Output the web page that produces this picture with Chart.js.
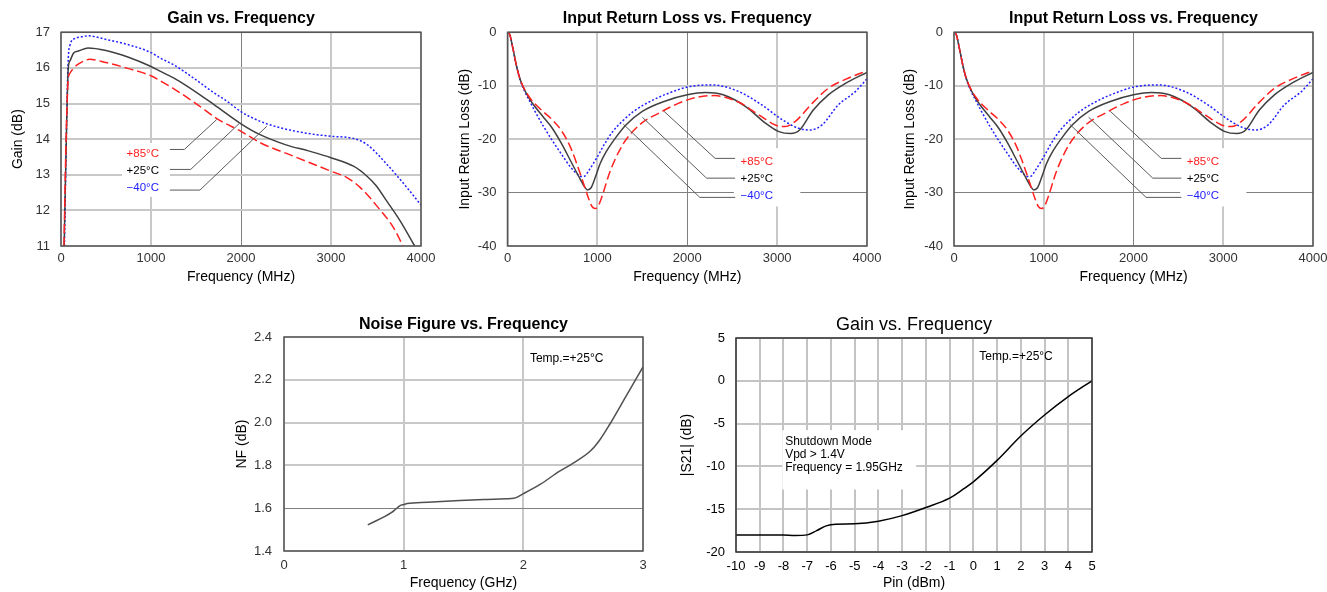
<!DOCTYPE html>
<html>
<head>
<meta charset="utf-8">
<script src="https://cdn.jsdelivr.net/npm/chart.js@4.4.1/dist/chart.umd.min.js"></script>
<style>
  html, body { margin: 0; padding: 0; background: #fff; }
  body { width: 1327px; height: 592px; position: relative; overflow: hidden; }
  .panel { position: absolute; }
</style>
</head>
<body>
<div class="panel" style="left:0;top:0;width:440px;height:292px"><canvas id="gainChart"></canvas></div>
<div class="panel" style="left:880px;top:0;width:447px;height:292px"><canvas id="rlChartB"></canvas></div>
<div class="panel" style="left:440px;top:0;width:460px;height:292px"><canvas id="rlChartA"></canvas></div>
<div class="panel" style="left:220px;top:300px;width:440px;height:292px"><canvas id="nfChart"></canvas></div>
<div class="panel" style="left:660px;top:300px;width:440px;height:292px"><canvas id="s21Chart"></canvas></div>
<script>
const FONT = '"Liberation Sans", Arial, sans-serif';

// ---- Gain vs. Frequency (MHz, dB)
const gainFreq85 = [33, 52, 70, 81, 100, 155, 200, 320, 500, 750, 1000, 1100, 1250, 1500, 1750, 2000, 2214, 2585, 3000, 3177, 3326, 3511, 3696, 3800];
const gain85     = [11.0, 13.5, 15.2, 15.7, 15.85, 16.03, 16.12, 16.24, 16.15, 15.98, 15.78, 15.64, 15.42, 15.0, 14.55, 14.22, 13.9, 13.52, 13.1, 12.92, 12.64, 12.12, 11.51, 11.0];
const gainFreq25 = [35, 55, 81, 100, 140, 200, 300, 500, 750, 1000, 1100, 1250, 1400, 1700, 2000, 2200, 2500, 2750, 3000, 3250, 3400, 3500, 3620, 3770, 3930];
const gain25     = [11.0, 13.5, 16.0, 16.2, 16.42, 16.48, 16.56, 16.49, 16.3, 16.04, 15.91, 15.72, 15.49, 14.97, 14.43, 14.14, 13.84, 13.67, 13.48, 13.24, 12.96, 12.7, 12.26, 11.7, 11.0];
const gainFreq40 = [38, 55, 81, 100, 155, 200, 300, 500, 750, 1000, 1100, 1250, 1470, 1700, 1841, 2000, 2214, 2437, 2696, 3000, 3252, 3400, 3622, 3844, 4000];
const gain40     = [11.0, 13.5, 16.27, 16.64, 16.83, 16.86, 16.9, 16.8, 16.65, 16.43, 16.28, 16.09, 15.72, 15.3, 15.07, 14.77, 14.5, 14.32, 14.18, 14.08, 14.02, 13.85, 13.29, 12.64, 12.15];

// ---- Input Return Loss vs. Frequency (MHz, dB)
const rlFreq85 = [0, 25, 60, 100, 140, 190, 250, 300, 400, 500, 600, 700, 800, 850, 900, 940, 975, 1010, 1050, 1140, 1280, 1470, 1700, 1900, 2100, 2300, 2575, 2800, 2980, 3090, 3200, 3390, 3570, 3760, 4000];
const rl85     = [0, -0.4, -3.0, -6.3, -8.8, -10.7, -12.3, -13.3, -14.9, -16.4, -18.4, -21.5, -26.0, -28.5, -31.0, -32.6, -33.0, -32.5, -30.8, -26.1, -21.1, -17.3, -15.0, -13.3, -12.2, -11.85, -13.1, -15.5, -17.34, -17.65, -16.72, -13.3, -10.48, -8.8, -7.2];
const rlFreq25 = [0, 25, 60, 100, 140, 190, 250, 300, 400, 500, 600, 700, 800, 860, 890, 930, 980, 1030, 1100, 1200, 1320, 1500, 1750, 2000, 2200, 2400, 2650, 2870, 3020, 3150, 3250, 3400, 3570, 3760, 4000];
const rl25     = [0, -0.4, -3.0, -6.3, -8.8, -10.8, -12.6, -13.8, -15.9, -18.0, -20.8, -24.0, -27.2, -29.0, -29.5, -29.1, -27.0, -24.6, -22.3, -19.8, -17.3, -14.8, -12.9, -11.7, -11.25, -11.7, -13.9, -17.0, -18.6, -18.96, -18.3, -14.6, -11.7, -9.55, -7.5];
const rlFreq40 = [0, 25, 60, 100, 140, 190, 250, 300, 400, 500, 600, 700, 780, 820, 860, 900, 990, 1080, 1170, 1280, 1400, 1620, 1840, 2020, 2280, 2575, 2830, 3060, 3240, 3370, 3500, 3680, 3870, 4000];
const rl40     = [0, -0.4, -3.0, -6.3, -8.9, -11.0, -13.0, -14.6, -17.6, -20.3, -22.8, -25.2, -26.6, -27.0, -26.9, -26.0, -23.6, -20.9, -18.6, -16.6, -14.85, -12.66, -11.1, -10.17, -9.86, -11.1, -13.6, -16.4, -17.97, -18.28, -17.34, -13.6, -11.1, -8.7];

// ---- Noise Figure vs. Frequency (GHz, dB)
const nfFreq = [0.70, 0.90, 0.93, 0.97, 1.0, 1.03, 1.2, 1.47, 1.7, 1.86, 1.92, 2.0, 2.14, 2.3, 2.42, 2.56, 2.64, 2.72, 2.86, 3.0];
const nfVal  = [1.522, 1.580, 1.594, 1.612, 1.617, 1.622, 1.628, 1.636, 1.641, 1.644, 1.646, 1.668, 1.711, 1.772, 1.812, 1.867, 1.920, 1.990, 2.125, 2.26];

// ---- Shutdown |S21| vs. Pin (dBm, dB)
const pinVal = [-10, -9, -8, -7.5, -7, -6.6, -6.2, -5.8, -5, -4, -3, -2, -1, -0.5, 0, 1, 2, 3, 4, 5];
const s21Val = [-18.0, -18.0, -18.02, -18.06, -18.0, -17.5, -16.95, -16.75, -16.7, -16.4, -15.75, -14.8, -13.7, -12.8, -11.8, -9.3, -6.45, -4.0, -1.85, 0];

const tempLabels = ['+85°C', '+25°C', '\u221240°C'];
const tempColors = ['#ff2020', '#000000', '#2020ff'];

const pts = (xs, ys) => xs.map((x, i) => ({ x, y: ys[i] }));

// annotation placement, in data units of each chart
const gainNotes = {
  boxes: [[678, 1210, 13.89, 12.38]],
  leaders: [
    [[1210, 13.71], [1370, 13.71], [1730, 14.55]],
    [[1210, 13.15], [1441, 13.15], [1981, 14.44]],
    [[1210, 12.57], [1544, 12.57], [2286, 14.36]]
  ],
  texts: [
    { at: [1089, 13.58], text: tempLabels[0], color: tempColors[0], align: 'right' },
    { at: [1089, 13.11], text: tempLabels[1], color: tempColors[1], align: 'right' },
    { at: [1089, 12.63], text: tempLabels[2], color: tempColors[2], align: 'right' }
  ]
};
const rlNotes = {
  boxes: [[2519, 3258, -21.7, -32.6]],
  leaders: [
    [[2533, -23.6], [2310, -23.6], [1742, -14.8]],
    [[2533, -27.3], [2215, -27.3], [1500, -15.9]],
    [[2533, -30.9], [2140, -30.9], [1289, -17.2]]
  ],
  texts: [
    { at: [2593, -24.2], text: tempLabels[0], color: tempColors[0], align: 'left' },
    { at: [2593, -27.5], text: tempLabels[1], color: tempColors[1], align: 'left' },
    { at: [2593, -30.6], text: tempLabels[2], color: tempColors[2], align: 'left' }
  ]
};
const nfNotes = {
  texts: [{ at: [2.055, 2.30], text: 'Temp.=+25°C', color: '#000', align: 'left', size: 12 }]
};
const s21Notes = {
  boxes: [[-8.05, -2.41, -5.77, -12.7]],
  texts: [
    { at: [0.25, 2.82], text: 'Temp.=+25°C', color: '#000', align: 'left', size: 12 },
    { at: [-7.93, -7.11], text: 'Shutdown Mode', color: '#000', align: 'left', size: 12 },
    { at: [-7.93, -8.67], text: 'Vpd > 1.4V', color: '#000', align: 'left', size: 12 },
    { at: [-7.93, -10.15], text: 'Frequency = 1.95GHz', color: '#000', align: 'left', size: 12 }
  ]
};

function overlay(notes, title, frameColor) {
  return {
    id: 'overlay',
    beforeDatasetsDraw(chart) {
      const { ctx, scales: { x, y } } = chart;
      ctx.save();
      ctx.fillStyle = '#fff';
      (notes.boxes || []).forEach(b => {
        const x0 = x.getPixelForValue(b[0]), x1 = x.getPixelForValue(b[1]);
        const y0 = y.getPixelForValue(b[2]), y1 = y.getPixelForValue(b[3]);
        ctx.fillRect(Math.min(x0, x1), Math.min(y0, y1), Math.abs(x1 - x0), Math.abs(y1 - y0));
      });
      ctx.restore();
    },
    afterDatasetsDraw(chart) {
      const { ctx, chartArea: a, scales: { x, y } } = chart;
      ctx.save();
      ctx.strokeStyle = '#5a5a5a';
      ctx.lineWidth = 1;
      (notes.leaders || []).forEach(line => {
        ctx.beginPath();
        line.forEach((p, i) => {
          const px = x.getPixelForValue(p[0]), py = y.getPixelForValue(p[1]);
          i ? ctx.lineTo(px, py) : ctx.moveTo(px, py);
        });
        ctx.stroke();
      });
      ctx.strokeStyle = frameColor;
      ctx.lineWidth = 1.5;
      ctx.strokeRect(a.left, a.top, a.right - a.left, a.bottom - a.top);
      ctx.restore();
    },
    afterDraw(chart) {
      const { ctx, chartArea: a, scales: { x, y } } = chart;
      ctx.save();
      ctx.textBaseline = 'middle';
      (notes.texts || []).forEach(t => {
        ctx.font = (t.size || 11.5) + 'px ' + FONT;
        ctx.fillStyle = t.color;
        ctx.textAlign = t.align;
        ctx.fillText(t.text, x.getPixelForValue(t.at[0]), y.getPixelForValue(t.at[1]));
      });
      ctx.font = title.weight + ' ' + title.size + 'px ' + FONT;
      ctx.fillStyle = '#000';
      ctx.textAlign = 'center';
      ctx.fillText(title.text, (a.left + a.right) / 2, title.y);
      ctx.restore();
    }
  };
}

function axis(o) {
  const isDark = v => (o.dark || []).some(d => Math.abs(d - v) < 1e-6);
  return {
    type: 'linear', min: o.min, max: o.max,
    afterFit: s => {
      // fixed axis box, no extra room for overhanging edge labels
      if (o.w != null) { s.width = o.w; s.paddingTop = 0; s.paddingBottom = 0; }
      if (o.h != null) { s.height = o.h; s.paddingLeft = 0; s.paddingRight = 0; }
    },
    border: { display: false },
    grid: {
      drawTicks: false,
      color: c => (c.tick && isDark(c.tick.value)) ? '#808080' : (o.gridColor || '#c8c8c8'),
      lineWidth: c => (c.tick && isDark(c.tick.value)) ? 1 : 2
    },
    ticks: {
      stepSize: o.step, autoSkip: false, maxRotation: 0, padding: o.pad,
      color: o.tickColor || '#333', font: { family: FONT, size: o.tickSize || 13 },
      callback: o.fmt || (v => v)
    },
    title: {
      display: true, text: o.title, color: '#000',
      font: { family: FONT, size: o.titleSize || 14 }, padding: o.titlePad
    }
  };
}

function tempSets(d85, d25, d40) {
  return [
    { data: d85, borderColor: tempColors[0], borderDash: [9, 4], borderWidth: 1.5 },
    { data: d25, borderColor: '#404040', borderWidth: 1.5 },
    { data: d40, borderColor: tempColors[2], borderDash: [2, 2], borderWidth: 1.5 }
  ];
}

function baseOptions(padTop, padRight, xAxis, yAxis) {
  return {
    responsive: true, maintainAspectRatio: false, animation: false,
    layout: { padding: { top: padTop, right: padRight, left: 0, bottom: 0 } },
    elements: { point: { radius: 0 }, line: { cubicInterpolationMode: 'monotone', fill: false } },
    plugins: { legend: { display: false }, tooltip: { enabled: false }, title: { display: false } },
    scales: { x: xAxis, y: yAxis }
  };
}

// Gain vs. Frequency
new Chart(document.getElementById('gainChart'), {
  type: 'line',
  data: { datasets: tempSets(pts(gainFreq85, gain85), pts(gainFreq25, gain25), pts(gainFreq40, gain40)) },
  options: baseOptions(32.3, 19,
    axis({ min: 0, max: 4000, step: 1000, h: 46, pad: 5, title: 'Frequency (MHz)', titlePad: { bottom: 6.6 }, dark: [2000] }),
    axis({ min: 11, max: 17, step: 1, w: 61, pad: 11, title: 'Gain (dB)', titlePad: { top: 9.6 } })),
  plugins: [overlay(gainNotes, { text: 'Gain vs. Frequency', size: 16, weight: 'bold', y: 19 }, '#555')]
});

// Input Return Loss vs. Frequency (two copies; the first canvas is wider so its last tick label is not cut)
[['rlChartA', 67.5, 33, 16.6], ['rlChartB', 74, 14, 21.6]].forEach(([id, yw, pr, tp]) => {
  new Chart(document.getElementById(id), {
    type: 'line',
    data: { datasets: tempSets(pts(rlFreq85, rl85), pts(rlFreq25, rl25), pts(rlFreq40, rl40)) },
    options: baseOptions(32.3, pr,
      axis({ min: 0, max: 4000, step: 1000, h: 46, pad: 5, title: 'Frequency (MHz)', titlePad: { bottom: 6.6 }, dark: [2000] }),
      axis({ min: -40, max: 0, step: 10, w: yw, pad: 11, title: 'Input Return Loss (dB)', titlePad: { top: tp }, dark: [-30] })),
    plugins: [overlay(rlNotes, { text: 'Input Return Loss vs. Frequency', size: 16, weight: 'bold', y: 19 }, '#555')]
  });
});

// Noise Figure vs. Frequency
new Chart(document.getElementById('nfChart'), {
  type: 'line',
  data: { datasets: [{ data: pts(nfFreq, nfVal), borderColor: '#505050', borderWidth: 1.5 }] },
  options: baseOptions(37, 17,
    axis({ min: 0, max: 3, step: 1, h: 41, pad: 7, title: 'Frequency (GHz)', titlePad: { bottom: 0.3 } }),
    axis({ min: 1.4, max: 2.4, step: 0.2, w: 64, pad: 12, title: 'NF (dB)', titlePad: { top: 13.3 }, dark: [1.6], fmt: v => v.toFixed(1) })),
  plugins: [overlay(nfNotes, { text: 'Noise Figure vs. Frequency', size: 16, weight: 'bold', y: 25 }, '#555')]
});

// Shutdown |S21| vs. Pin
new Chart(document.getElementById('s21Chart'), {
  type: 'line',
  data: { datasets: [{ data: pts(pinVal, s21Val), borderColor: '#000', borderWidth: 1.5 }] },
  options: baseOptions(38, 8,
    axis({ min: -10, max: 5, step: 1, h: 40, pad: 7, title: 'Pin (dBm)', titlePad: { bottom: 0 }, tickColor: '#000', gridColor: '#c4c4c4' }),
    axis({ min: -20, max: 5, step: 5, w: 76, pad: 11, title: '|S21| (dB)', titlePad: { top: 18.3 }, tickColor: '#000', gridColor: '#c4c4c4' })),
  plugins: [overlay(s21Notes, { text: 'Gain vs. Frequency', size: 18, weight: 'normal', y: 25 }, '#333')]
});
</script>
</body>
</html>
